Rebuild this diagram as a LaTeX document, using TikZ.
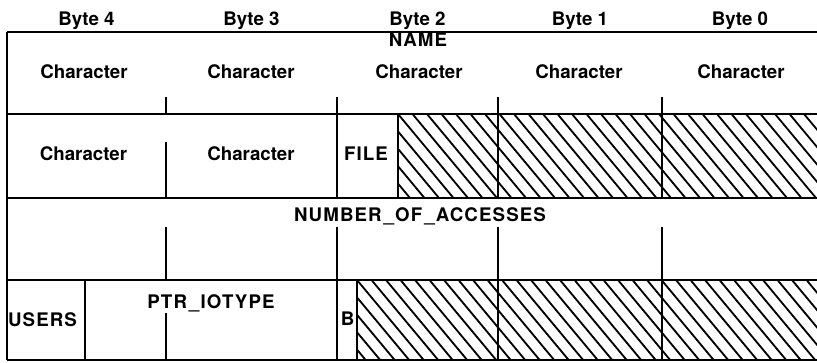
\documentclass[tikz,border=0pt]{standalone}
\usepackage{fontspec}
\setmainfont{TeX Gyre Heros}
\newfontfamily\capsfont[LetterSpace=6]{TeX Gyre Heros}
\begin{document}
\begin{tikzpicture}[x=1pt,y=-1pt]
\tikzset{
  lbl/.style={font=\fontsize{18.7}{20}\selectfont\bfseries, inner sep=0pt, anchor=base},
  caps/.style={font=\fontsize{18.7}{20}\selectfont\capsfont\bfseries, inner sep=0pt, anchor=base},
  rule/.style={line width=2.2pt},
  hatchline/.style={line width=1.8pt},
}
\useasboundingbox (0,0) rectangle (817,362);
% hatching
\begin{scope}
  \clip (398,114) rectangle (820,198);
  \foreach \k in {-8,...,32} {
    \draw[hatchline] ({398+14.5*\k},114) -- ++(84/1.2,84);
  }
\end{scope}
\begin{scope}
  \clip (357,280) rectangle (820,360);
  \foreach \k in {-8,...,34} {
    \draw[hatchline] ({357+14.5*\k},280) -- ++(80/1.2,80);
  }
\end{scope}
% horizontal rules
\foreach \y in {32,114,198,280,360} {
  \draw[rule] (7,\y) -- (820,\y);
}
% left edge
\draw[rule] (7,32) -- (7,360);
% row 1 ticks
\foreach \x in {166,337,498,662} {
  \draw[rule] (\x,97) -- (\x,114);
}
% row 2
\draw[rule] (166,142) -- (166,198);
\foreach \x in {337,398,498,662} {
  \draw[rule] (\x,114) -- (\x,198);
}
% row 3 ticks
\foreach \x in {166,337,498,662} {
  \draw[rule] (\x,227) -- (\x,280);
}
% row 4
\draw[rule] (166,313) -- (166,360);
\foreach \x in {85,337,357,498,662} {
  \draw[rule] (\x,280) -- (\x,360);
}
% header labels
\node[lbl] (b4) at (86.5,25) {Byte 4};
\node[lbl] (b3) at (251.5,25) {Byte 3};
\node[lbl] (b2) at (417.5,25) {Byte 2};
\node[lbl] (b1) at (580,25) {Byte 1};
\node[lbl] (b0) at (740,25) {Byte 0};
% row 1
\node[caps] (name) at (418,46.7) {NAME};
\node[lbl] (c10) at (84,78) {Character};
\node[lbl] (c11) at (251,78) {Character};
\node[lbl] (c12) at (419,78) {Character};
\node[lbl] (c13) at (579,78) {Character};
\node[lbl] (c14) at (741,78) {Character};
% row 2
\node[lbl] (c20) at (83.5,160) {Character};
\node[lbl] (c21) at (251,160) {Character};
\node[caps] (file) at (366,160) {FILE};
% row 3
\node[caps] (num) at (420,221.7) {NUMBER\hspace{2pt}\_OF\hspace{2pt}\_ACCESSES};
% row 4
\node[caps] (users) at (42.5,326.5) {USERS};
\node[caps] (ptr) at (211,308) {PTR\hspace{2pt}\_IOTYPE};
\node[caps] (bb) at (347.5,325.5) {B};
\end{tikzpicture}
\end{document}
